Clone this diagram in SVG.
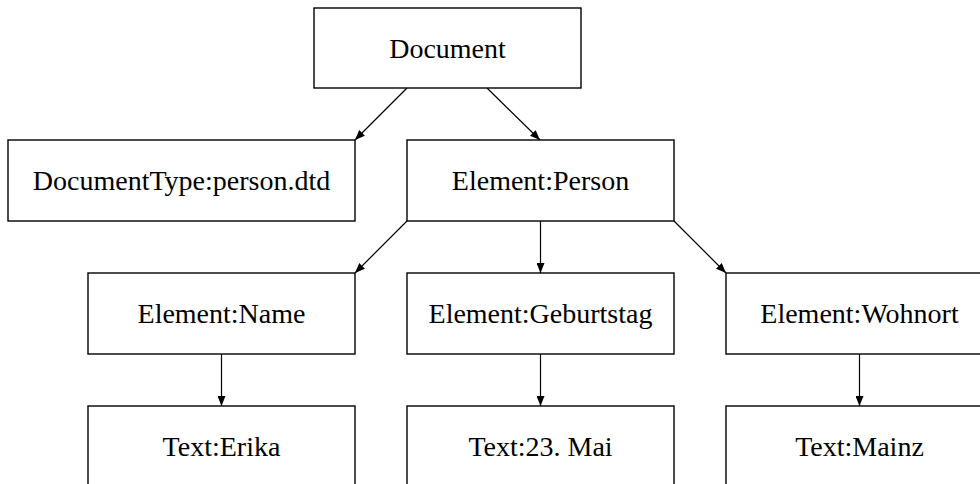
<svg xmlns="http://www.w3.org/2000/svg" width="980" height="484" viewBox="0 0 980 484">
<style>
.box{fill:#fff;stroke:#000;stroke-width:1.4}
.lbl{font-family:"Liberation Serif","Times New Roman",serif;font-size:28px;fill:#000;text-anchor:middle}
.edge{stroke:#000;stroke-width:1.2;fill:none;marker-end:url(#arr)}
</style>
<defs>
<marker id="arr" viewBox="0 0 10 8" refX="10" refY="4" markerWidth="10" markerHeight="8" markerUnits="userSpaceOnUse" orient="auto">
<path d="M0,0 L10,4 L0,8 z" fill="#000"/>
</marker>
</defs>
<rect width="980" height="484" fill="#fff"/>
<g id="connectors">
<line class="edge" x1="407" y1="88" x2="355" y2="140"/>
<line class="edge" x1="487" y1="88" x2="540" y2="140"/>
<line class="edge" x1="407" y1="221" x2="355" y2="273"/>
<line class="edge" x1="540.5" y1="221" x2="540.5" y2="273"/>
<line class="edge" x1="674" y1="221" x2="726" y2="273"/>
<line class="edge" x1="221.5" y1="354" x2="221.5" y2="406"/>
<line class="edge" x1="540.5" y1="354" x2="540.5" y2="406"/>
<line class="edge" x1="859.5" y1="354" x2="859.5" y2="406"/>
</g>
<g id="document">
<rect class="box" x="314" y="8" width="267" height="80"/>
<text class="lbl" x="447.5" y="57.5">Document</text>
</g>
<g id="doctype">
<rect class="box" x="8" y="140" width="347" height="81"/>
<text class="lbl" x="181.5" y="190">DocumentType:person.dtd</text>
</g>
<g id="person">
<rect class="box" x="407" y="140" width="267" height="81"/>
<text class="lbl" x="540.5" y="190">Element:Person</text>
</g>
<g id="name">
<rect class="box" x="88" y="273" width="267" height="81"/>
<text class="lbl" x="221.5" y="323">Element:Name</text>
</g>
<g id="geburtstag">
<rect class="box" x="407" y="273" width="267" height="81"/>
<text class="lbl" x="540.5" y="323">Element:Geburtstag</text>
</g>
<g id="wohnort">
<rect class="box" x="726" y="273" width="267" height="81"/>
<text class="lbl" x="859.5" y="323">Element:Wohnort</text>
</g>
<g id="erika">
<rect class="box" x="88" y="406" width="267" height="81"/>
<text class="lbl" x="221.5" y="456">Text:Erika</text>
</g>
<g id="mai">
<rect class="box" x="407" y="406" width="267" height="81"/>
<text class="lbl" x="540.5" y="456">Text:23. Mai</text>
</g>
<g id="mainz">
<rect class="box" x="726" y="406" width="267" height="81"/>
<text class="lbl" x="859.5" y="456">Text:Mainz</text>
</g>
</svg>
